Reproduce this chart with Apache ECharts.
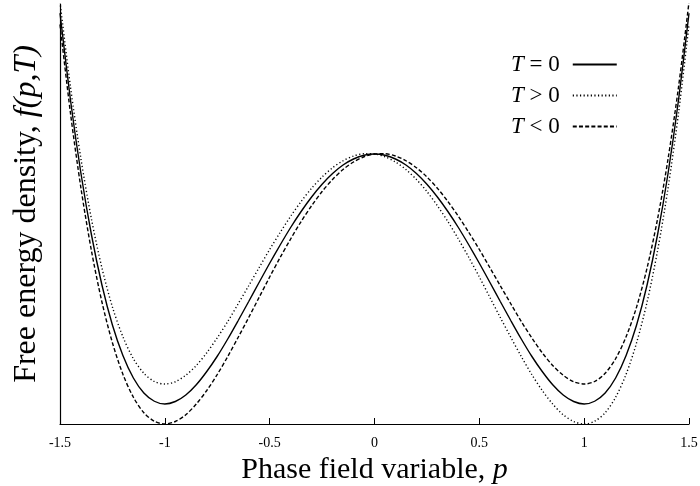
<!DOCTYPE html>
<html>
<head>
<meta charset="utf-8">
<script src="https://cdn.jsdelivr.net/npm/echarts@6/dist/echarts.min.js"></script>
<style>
  html, body { margin: 0; padding: 0; background: #fff; }
  #chart { width: 700px; height: 486px; }
</style>
</head>
<body>
<div id="chart"></div>
<script>
// Phase field variable p (x axis)
const pValues = [
  -1.5, -1.45, -1.4, -1.35, -1.3, -1.25, -1.2, -1.15, -1.1, -1.05,
  -1.0, -0.95, -0.9, -0.85, -0.8, -0.75, -0.7, -0.65, -0.6, -0.55,
  -0.5, -0.45, -0.4, -0.35, -0.3, -0.25, -0.2, -0.15, -0.1, -0.05,
  0,
  0.05, 0.1, 0.15, 0.2, 0.25, 0.3, 0.35, 0.4, 0.45,
  0.5, 0.55, 0.6, 0.65, 0.7, 0.75, 0.8, 0.85, 0.9, 0.95,
  1.0, 1.05, 1.1, 1.15, 1.2, 1.25, 1.3, 1.35, 1.4, 1.45, 1.5
];

// Free energy density f(p,T), T = 0
const fZero = [
  1.643, 1.296, 1.002, 0.757, 0.556, 0.396, 0.274, 0.184, 0.124, 0.091,
  0.080, 0.090, 0.116, 0.157, 0.210, 0.271, 0.340, 0.414, 0.490, 0.567,
  0.643, 0.716, 0.786, 0.850, 0.908, 0.959, 1.002, 1.036, 1.060, 1.075,
  1.080,
  1.075, 1.060, 1.036, 1.002, 0.959, 0.908, 0.850, 0.786, 0.716,
  0.643, 0.567, 0.490, 0.414, 0.340, 0.271, 0.210, 0.157, 0.116, 0.090,
  0.080, 0.091, 0.124, 0.184, 0.274, 0.396, 0.556, 0.757, 1.002, 1.296, 1.643
];

// T > 0
const fPositive = [
  1.688, 1.348, 1.060, 0.820, 0.624, 0.468, 0.349, 0.261, 0.203, 0.170,
  0.160, 0.169, 0.195, 0.234, 0.285, 0.345, 0.410, 0.481, 0.553, 0.626,
  0.698, 0.766, 0.831, 0.890, 0.943, 0.988, 1.025, 1.053, 1.072, 1.081,
  1.080,
  1.069, 1.048, 1.018, 0.978, 0.930, 0.873, 0.810, 0.740, 0.666,
  0.588, 0.507, 0.426, 0.347, 0.270, 0.198, 0.134, 0.080, 0.037, 0.010,
  0.000, 0.011, 0.045, 0.107, 0.199, 0.325, 0.488, 0.693, 0.943, 1.243, 1.598
];

// T < 0
const fNegative = [
  1.598, 1.243, 0.943, 0.693, 0.488, 0.325, 0.199, 0.107, 0.045, 0.011,
  0.000, 0.010, 0.037, 0.080, 0.134, 0.198, 0.270, 0.347, 0.426, 0.507,
  0.588, 0.666, 0.740, 0.810, 0.873, 0.930, 0.978, 1.018, 1.048, 1.069,
  1.080,
  1.081, 1.072, 1.053, 1.025, 0.988, 0.943, 0.890, 0.831, 0.766,
  0.698, 0.626, 0.553, 0.481, 0.410, 0.345, 0.285, 0.234, 0.195, 0.169,
  0.160, 0.170, 0.203, 0.261, 0.349, 0.468, 0.624, 0.820, 1.060, 1.348, 1.688
];

const seriesNames = ['T = 0', 'T > 0', 'T < 0'];
const xTicks = { min: -1.5, max: 1.5, interval: 0.5 };

const serif = '"Liberation Serif", "DejaVu Serif", serif';

function pairs(ys) {
  return pValues.map((p, i) => [p, ys[i]]);
}

function curve(name, ys, type) {
  return {
    name: name,
    type: 'line',
    data: pairs(ys),
    smooth: 0.3,
    symbol: 'none',
    clip: true,
    lineStyle: { color: '#000', width: 1.4, type: type },
    itemStyle: { color: '#000' }
  };
}

const chart = echarts.init(document.getElementById('chart'), null, { renderer: 'canvas' });

chart.setOption({
  animation: false,
  backgroundColor: '#fff',
  grid: { left: 60, right: 11, top: 4, bottom: 62, containLabel: false, outerBoundsMode: 'none' },
  legend: {
    orient: 'vertical',
    align: 'right',
    left: 506,
    top: 48,
    itemWidth: 44,
    itemHeight: 14,
    itemGap: 8,
    data: seriesNames,
    itemStyle: { opacity: 0, borderWidth: 0 },
    formatter: function (name) {
      return '{i|T}' + name.slice(1);
    },
    textStyle: {
      fontFamily: serif,
      fontSize: 23,
      color: '#000',
      padding: [0, 8, 0, 0],
      rich: {
        i: { fontFamily: serif, fontStyle: 'italic', fontSize: 23, color: '#000' }
      }
    }
  },
  xAxis: {
    type: 'value',
    min: xTicks.min,
    max: xTicks.max,
    interval: xTicks.interval,
    name: 'Phase field variable, {i|p}',
    nameLocation: 'middle',
    nameGap: 28,
    nameTextStyle: {
      fontFamily: serif,
      fontSize: 30,
      color: '#000',
      rich: {
        i: { fontFamily: serif, fontStyle: 'italic', fontSize: 30, color: '#000' }
      }
    },
    axisLine: { onZero: false, lineStyle: { color: '#000', width: 1.2 } },
    axisTick: { inside: true, length: 6, lineStyle: { color: '#000', width: 1 } },
    axisLabel: { fontFamily: serif, fontSize: 14, color: '#000', margin: 12 },
    splitLine: { show: false }
  },
  yAxis: {
    type: 'value',
    min: 0,
    max: 1.68,
    name: 'Free energy density, {i|f(p,T)}',
    nameLocation: 'middle',
    nameGap: 17,
    nameTextStyle: {
      fontFamily: serif,
      fontSize: 32,
      color: '#000',
      rich: {
        i: { fontFamily: serif, fontStyle: 'italic', fontSize: 32, color: '#000' }
      }
    },
    axisLine: { show: true, onZero: false, lineStyle: { color: '#000', width: 1.2 } },
    axisTick: { show: false },
    axisLabel: { show: false },
    splitLine: { show: false }
  },
  series: [
    curve(seriesNames[0], fZero, 'solid'),
    curve(seriesNames[1], fPositive, [1.2, 2.4]),
    curve(seriesNames[2], fNegative, [4, 2.2])
  ]
});
</script>
</body>
</html>
